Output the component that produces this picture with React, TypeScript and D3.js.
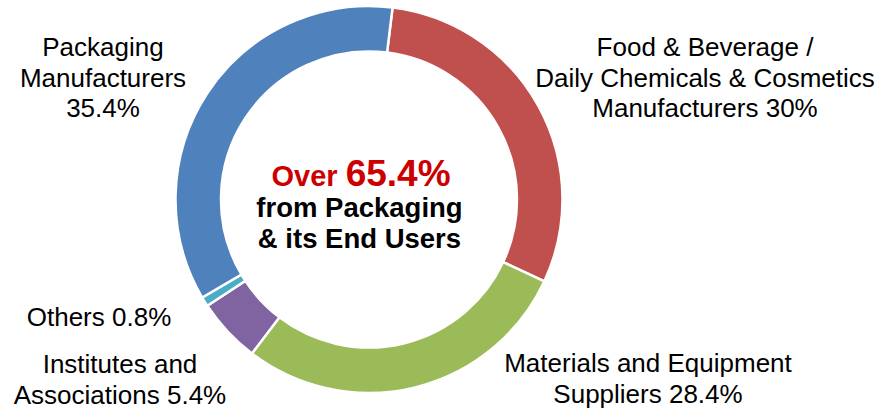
import React from "react";
import * as d3 from "d3";

const categories = [
  "Food & Beverage / Daily Chemicals & Cosmetics Manufacturers",
  "Materials and Equipment Suppliers",
  "Institutes and Associations",
  "Others",
  "Packaging Manufacturers",
];
const values = [30, 28.4, 5.4, 0.8, 35.4];
const colors = ["#C0504D", "#9BBB59", "#8064A2", "#4BACC6", "#4F81BD"];
const labelLines = [
  ["Food & Beverage /", "Daily Chemicals & Cosmetics", "Manufacturers 30%"],
  ["Materials and Equipment", "Suppliers 28.4%"],
  ["Institutes and", "Associations 5.4%"],
  ["Others 0.8%"],
  ["Packaging", "Manufacturers", "35.4%"],
];
const centerOver = "Over";
const centerValue = "65.4%";
const centerLines = ["from Packaging", "& its End Users"];

// layout
const W = 886;
const H = 409;
const CX = 369;
const CY = 199.5;
const R_OUT = 193.5;
const R_IN = 148;
const START_DEG = 7;
const labelPos: [number, number][] = [
  [705, 56],
  [648, 372],
  [120, 373],
  [99, 326],
  [103, 56],
];
const LINE_H = 30.5;
const FONT = "'Liberation Sans', Arial, Helvetica, sans-serif";

export default function App() {
  const start = (START_DEG * Math.PI) / 180;
  const pie = d3
    .pie<number>()
    .sort(null)
    .value((d) => d)
    .startAngle(start)
    .endAngle(start + 2 * Math.PI);
  const arcs = pie(values);
  const arc = d3.arc<d3.PieArcDatum<number>>().innerRadius(R_IN).outerRadius(R_OUT);

  return (
    <svg
      width={W}
      height={H}
      style={{ position: "absolute", left: 0, top: 0, background: "#fff" }}
      fontFamily={FONT}
    >
      <g transform={`translate(${CX},${CY})`}>
        {arcs.map((a, i) => (
          <path key={categories[i]} d={arc(a) || ""} fill={colors[i]} stroke="#fff" strokeWidth={2.5} />
        ))}
      </g>
      {labelLines.map((lines, i) => (
        <text key={categories[i]} textAnchor="middle" fontSize={26} fill="#000">
          {lines.map((l, j) => (
            <tspan key={j} x={labelPos[i][0]} y={labelPos[i][1] + j * LINE_H}>
              {l}
            </tspan>
          ))}
        </text>
      ))}
      <text x={361} y={186} textAnchor="middle" fontWeight="bold" fill="#CC0000">
        <tspan fontSize={29}>{centerOver} </tspan>
        <tspan fontSize={37}>{centerValue}</tspan>
      </text>
      {centerLines.map((l, j) => (
        <text key={l} x={359.5} y={217 + j * LINE_H} textAnchor="middle" fontWeight="bold" fontSize={27.5} fill="#000">
          {l}
        </text>
      ))}
    </svg>
  );
}
